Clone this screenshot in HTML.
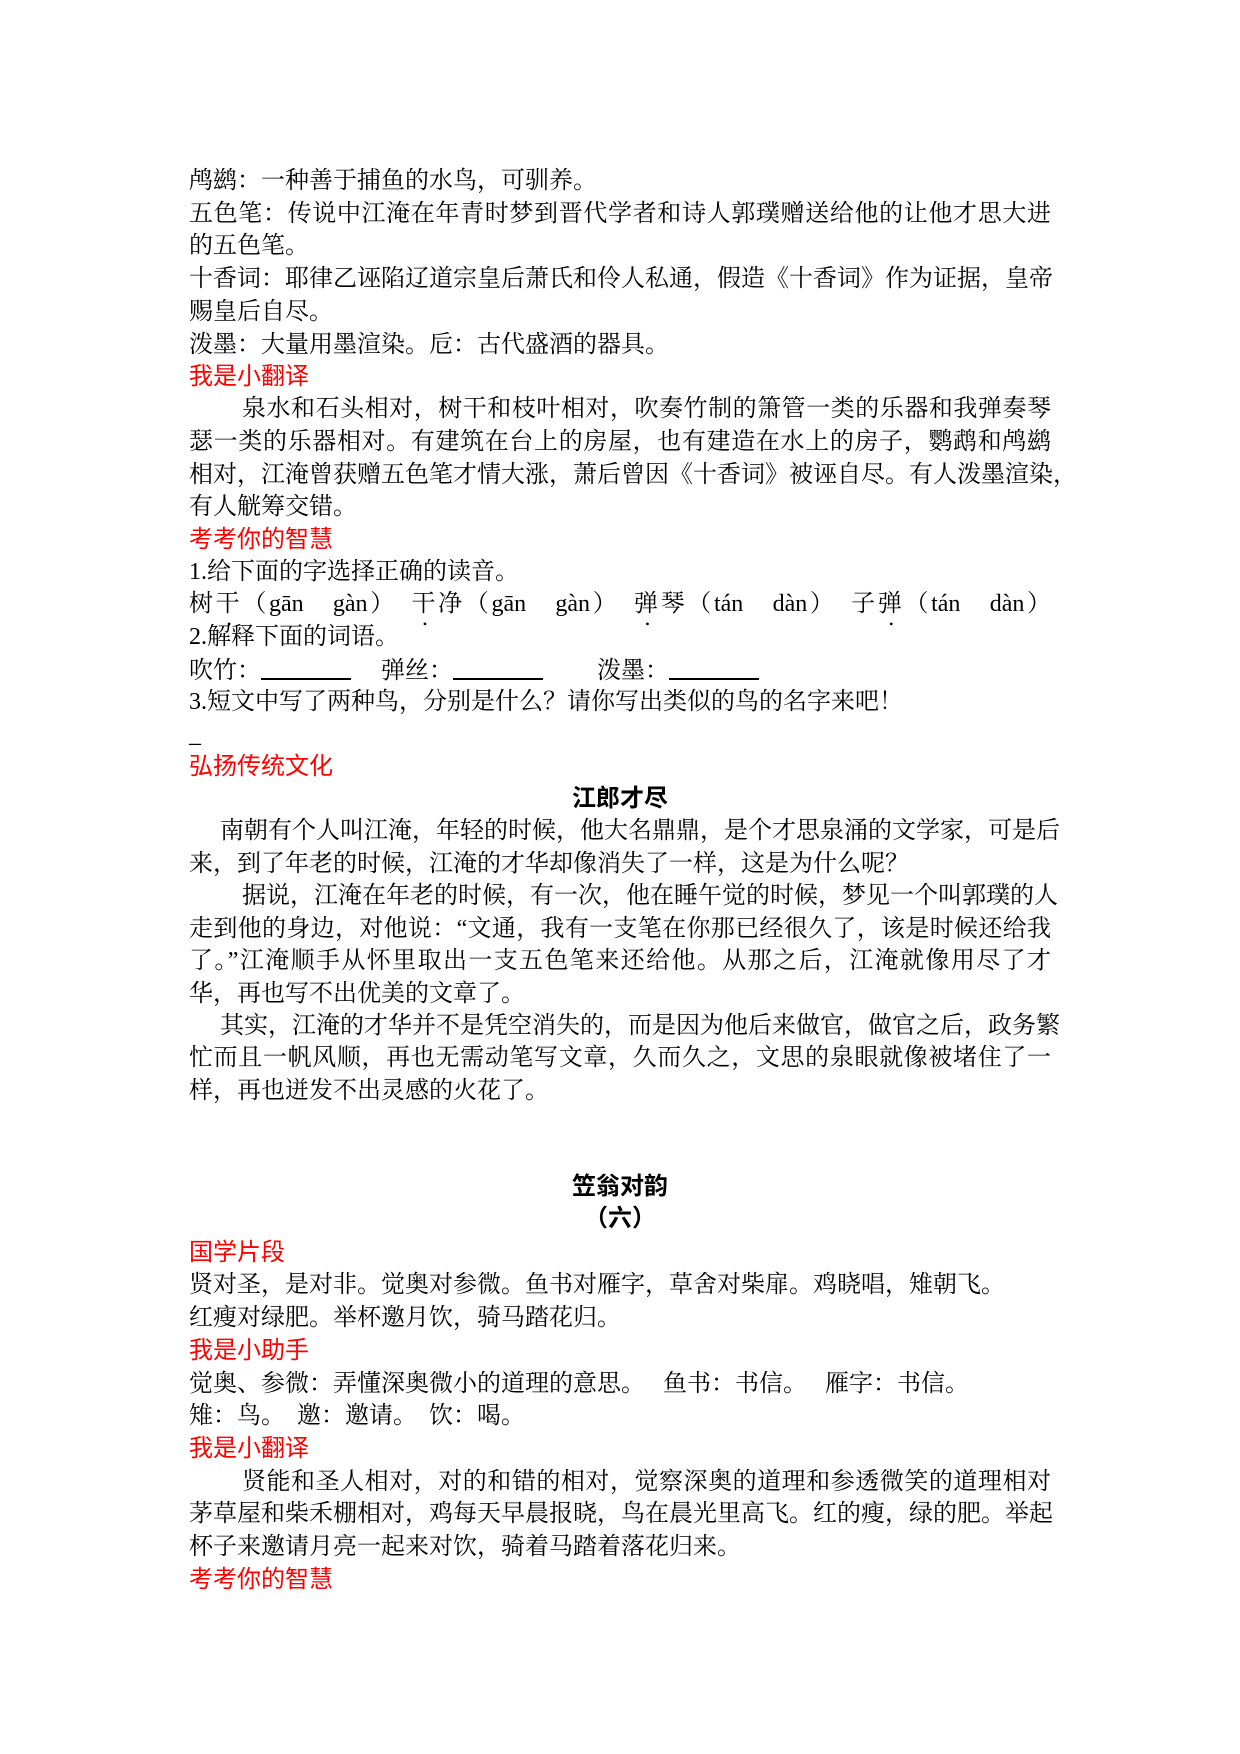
<!DOCTYPE html>
<html><head><meta charset="utf-8">
<style>
html,body{margin:0;padding:0;background:#fff;}
body{width:1240px;height:1754px;position:relative;overflow:hidden;}
.l{position:absolute;left:189px;height:32px;line-height:32px;font-family:"Liberation Serif","Noto Serif CJK SC",serif;font-size:24px;color:#000;white-space:nowrap;}
.j{width:862px;text-align:justify;text-align-last:justify;}
.r{color:#f00;font-family:"Liberation Sans","Noto Sans CJK SC",sans-serif;}
.t{left:0;width:1240px;text-align:center;font-weight:bold;font-family:"Liberation Sans","Noto Sans CJK SC",sans-serif;}
.d{-webkit-text-emphasis:dot;-webkit-text-emphasis-position:under;text-emphasis:filled dot;text-emphasis-position:under right;}
.u{display:inline-block;width:90px;border-bottom:2px solid #000;height:24px;vertical-align:-2px;}
</style></head><body>
<div class="l" style="top:165px">鸬鹚：一种善于捕鱼的水鸟，可驯养。</div>
<div class="l j" style="top:198px">五色笔：传说中江淹在年青时梦到晋代学者和诗人郭璞赠送给他的让他才思大进</div>
<div class="l" style="top:230px">的五色笔。</div>
<div class="l j" style="top:263px">十香词：耶律乙诬陷辽道宗皇后萧氏和伶人私通，假造《十香词》作为证据，皇帝</div>
<div class="l" style="top:296px">赐皇后自尽。</div>
<div class="l" style="top:329px">泼墨：大量用墨渲染。卮：古代盛酒的器具。</div>
<div class="l r" style="top:361px">我是小翻译</div>
<div class="l j" style="top:393px;left:242px;width:809px">泉水和石头相对，树干和枝叶相对，吹奏竹制的箫管一类的乐器和我弹奏琴</div>
<div class="l j" style="top:426px">瑟一类的乐器相对。有建筑在台上的房屋，也有建造在水上的房子，鹦鹉和鸬鹚</div>
<div class="l j" style="top:459px">相对，江淹曾获赠五色笔才情大涨，萧后曾因《十香词》被诬自尽。有人泼墨渲染，</div>
<div class="l" style="top:491px">有人觥筹交错。</div>
<div class="l r" style="top:524px">考考你的智慧</div>
<div class="l" style="top:556px">1.给下面的字选择正确的读音。</div>
<div class="l j" style="top:588px">树<span class="d">干</span>（gān　gàn）　<span class="d">干</span>净（gān　gàn）　<span class="d">弹</span>琴（tán　dàn）　子<span class="d">弹</span>（tán　dàn）</div>
<div class="l" style="top:621px">2.解释下面的词语。</div>
<div class="l" style="top:654px">吹竹：<span class="u"></span>　 弹丝：<span class="u"></span>　 　泼墨：<span class="u"></span></div>
<div class="l" style="top:686px">3.短文中写了两种鸟，分别是什么？请你写出类似的鸟的名字来吧！</div>
<div class="l" style="top:719px">_</div>
<div class="l r" style="top:751px">弘扬传统文化</div>
<div class="l t" style="top:783px">江郎才尽</div>
<div class="l j" style="top:815px;left:220px;width:831px">南朝有个人叫江淹，年轻的时候，他大名鼎鼎，是个才思泉涌的文学家，可是后</div>
<div class="l" style="top:848px">来，到了年老的时候，江淹的才华却像消失了一样，这是为什么呢？</div>
<div class="l j" style="top:880px;left:242px;width:809px">据说，江淹在年老的时候，有一次，他在睡午觉的时候，梦见一个叫郭璞的人</div>
<div class="l j" style="top:913px">走到他的身边，对他说：“文通，我有一支笔在你那已经很久了，该是时候还给我</div>
<div class="l j" style="top:945px">了。”江淹顺手从怀里取出一支五色笔来还给他。从那之后，江淹就像用尽了才</div>
<div class="l" style="top:978px">华，再也写不出优美的文章了。</div>
<div class="l j" style="top:1010px;left:220px;width:831px">其实，江淹的才华并不是凭空消失的，而是因为他后来做官，做官之后，政务繁</div>
<div class="l j" style="top:1042px">忙而且一帆风顺，再也无需动笔写文章，久而久之，文思的泉眼就像被堵住了一</div>
<div class="l" style="top:1075px">样，再也迸发不出灵感的火花了。</div>
<div class="l t" style="top:1171px">笠翁对韵</div>
<div class="l t" style="top:1203px">（六）</div>
<div class="l r" style="top:1237px">国学片段</div>
<div class="l" style="top:1269px">贤对圣，是对非。觉奥对参微。鱼书对雁字，草舍对柴扉。鸡晓唱，雉朝飞。</div>
<div class="l" style="top:1302px">红瘦对绿肥。举杯邀月饮，骑马踏花归。</div>
<div class="l r" style="top:1335px">我是小助手</div>
<div class="l" style="top:1368px">觉奥、参微：弄懂深奥微小的道理的意思。　 鱼书：书信。　 雁字：书信。</div>
<div class="l" style="top:1400px">雉：鸟。　邀：邀请。　饮：喝。</div>
<div class="l r" style="top:1433px">我是小翻译</div>
<div class="l j" style="top:1466px;left:242px;width:809px">贤能和圣人相对，对的和错的相对，觉察深奥的道理和参透微笑的道理相对</div>
<div class="l j" style="top:1498px">茅草屋和柴禾棚相对，鸡每天早晨报晓，鸟在晨光里高飞。红的瘦，绿的肥。举起</div>
<div class="l" style="top:1531px">杯子来邀请月亮一起来对饮，骑着马踏着落花归来。</div>
<div class="l r" style="top:1564px">考考你的智慧</div>
</body></html>
